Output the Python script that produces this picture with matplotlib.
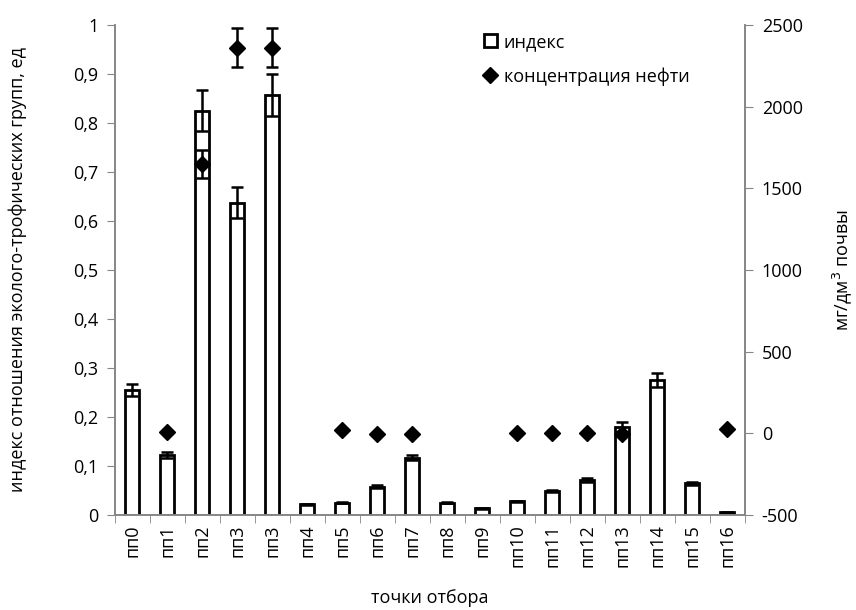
import numpy as np
import matplotlib.pyplot as plt
from matplotlib.ticker import FuncFormatter, FixedLocator

plt.rcParams['font.family'] = ['Open Sans', 'DejaVu Sans']

# точки отбора
tochki = ['пп0', 'пп1', 'пп2', 'пп3', 'пп3', 'пп4', 'пп5', 'пп6', 'пп7', 'пп8',
          'пп9', 'пп10', 'пп11', 'пп12', 'пп13', 'пп14', 'пп15', 'пп16']
# индекс отношения эколого-трофических групп
indeks = [0.255, 0.122, 0.825, 0.637, 0.858, 0.022, 0.025, 0.057, 0.117, 0.025,
          0.013, 0.028, 0.049, 0.071, 0.180, 0.275, 0.064, 0.005]
indeks_err = [0.012, 0.006, 0.042, 0.032, 0.043, 0.001, 0.001, 0.003, 0.006, 0.001,
              0.001, 0.001, 0.002, 0.004, 0.010, 0.015, 0.003, 0.001]
# концентрация нефти, мг/дм3 (nan - нет данных)
neft = [np.nan, 5, 1650, 2360, 2360, np.nan, 20, -4, -4, np.nan,
        np.nan, 4, 4, 4, -4, np.nan, np.nan, 25]
neft_err = [0, 0, 85, 120, 120, 0, 0, 0, 0, 0, 0, 0, 0, 0, 0, 0, 0, 0]

x = np.arange(len(tochki))
gris = '#868686'
fs = 13

fig = plt.figure(figsize=(8.56, 6.10), dpi=100)
ax = fig.add_axes([0.1343, 0.156, 0.736, 0.803])
ax2 = ax.twinx()

ax.bar(x, indeks, width=0.4, color='white', edgecolor='black', linewidth=2,
       yerr=indeks_err, error_kw=dict(ecolor='black', elinewidth=1.8, capsize=4, capthick=1.8),
       label='индекс', zorder=2)

neft_arr = np.array(neft, dtype=float)
err_arr = np.array(neft_err, dtype=float)
m = err_arr > 0
ax2.errorbar(x[m], neft_arr[m], yerr=err_arr[m], fmt='none', ecolor='black',
             elinewidth=1.8, capsize=4, capthick=1.8, zorder=3)
ax2.plot(x, neft_arr, linestyle='none', marker='D', markersize=8, color='black',
         label='концентрация нефти', zorder=4)

ax.set_xlim(-0.5, len(tochki) - 0.5)
ax.set_ylim(0, 1)
ax2.set_ylim(-500, 2500)
ax.set_yticks(np.arange(0, 1.01, 0.1))
ax.yaxis.set_major_formatter(FuncFormatter(lambda v, p: ('%g' % round(v, 1)).replace('.', ',')))
ax2.set_yticks(np.arange(-500, 2501, 500))
ax2.yaxis.set_major_formatter(FuncFormatter(lambda v, p: '%d' % v))

ax.set_xticks(x)
ax.set_xticklabels(tochki, rotation=90, fontsize=fs)
ax.xaxis.set_minor_locator(FixedLocator(np.arange(-0.5, len(tochki), 1)))
ax.tick_params(axis='x', which='major', length=0, pad=7)
ax.tick_params(axis='x', which='minor', length=6, color=gris, direction='out')
ax.tick_params(axis='y', labelsize=fs, color=gris, length=6, direction='out', pad=6)
ax2.tick_params(axis='y', labelsize=fs, color=gris, length=6, direction='out', pad=6)

for a in (ax, ax2):
    a.spines['top'].set_visible(False)
    for s in ('left', 'right', 'bottom'):
        a.spines[s].set_color(gris)
        a.spines[s].set_linewidth(1.2)

ax.set_xlabel('точки отбора', fontsize=fs)
ax.xaxis.set_label_coords(0.5, -0.152)
ax.set_ylabel('индекс отношения эколого-трофических групп, ед', fontsize=fs)
ax.yaxis.set_label_coords(-0.14, 0.5)
ax2.set_ylabel('мг/дм$^3$ почвы', fontsize=fs)
ax2.yaxis.set_label_coords(1.135, 0.5)

h1, l1 = ax.get_legend_handles_labels()
h2, l2 = ax2.get_legend_handles_labels()
ax2.legend(h1 + h2, l1 + l2, loc='upper left', bbox_to_anchor=(0.56, 1.017),
           frameon=False, fontsize=fs, handlelength=0.7, handletextpad=0.4,
           labelspacing=0.9)

fig.savefig('out.png', dpi=100)
